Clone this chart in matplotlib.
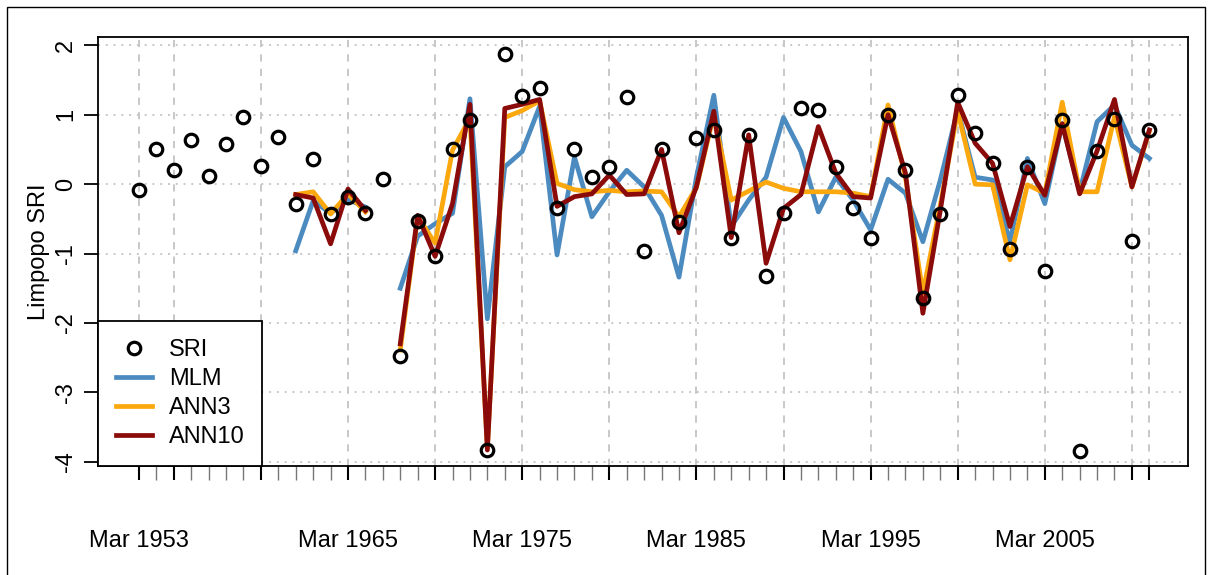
import numpy as np
import matplotlib.pyplot as plt
from matplotlib.patches import Rectangle

# annual SRI observations and model fits for the Limpopo basin
years = np.arange(1953, 2012)
model_years = np.arange(1962, 2012)

sri = [-0.08, 0.50, 0.21, 0.63, 0.12, 0.58, 0.96, 0.26, 0.68, -0.29,
       0.36, -0.43, -0.18, -0.42, 0.07, -2.47, -0.53, -1.04, 0.51, 0.93,
       -3.83, 1.88, 1.27, 1.38, -0.34, 0.50, 0.10, 0.24, 1.25, -0.96,
       0.51, -0.54, 0.66, 0.78, -0.77, 0.71, -1.32, -0.42, 1.10, 1.07,
       0.24, -0.35, -0.77, 0.99, 0.21, -1.64, -0.43, 1.28, 0.74, 0.30,
       -0.93, 0.25, -1.25, 0.92, -3.84, 0.48, 0.94, -0.82, 0.78]

mlm = [-0.96, -0.24, -0.42, -0.22, -0.33, np.nan, -1.50, -0.75, -0.57, -0.42,
       1.23, -1.94, 0.25, 0.47, 1.12, -1.02, 0.39, -0.47, -0.11, 0.20,
       -0.04, -0.45, -1.34, 0.10, 1.28, -0.61, -0.23, 0.10, 0.96, 0.47,
       -0.40, 0.10, -0.23, -0.66, 0.07, -0.13, -0.83, 0.06, 1.07, 0.10,
       0.06, -0.83, 0.37, -0.28, 0.87, -0.11, 0.90, 1.14, 0.56, 0.37]

ann3 = [-0.15, -0.11, -0.43, -0.14, -0.40, np.nan, -2.39, -0.47, -0.85, 0.49,
        0.95, -3.80, 0.96, 1.06, 1.20, 0.01, -0.08, -0.11, -0.09, -0.11,
        -0.10, -0.11, -0.47, -0.05, 1.00, -0.23, -0.10, 0.03, -0.06, -0.11,
        -0.11, -0.11, -0.13, -0.18, 1.14, 0.10, -1.57, -0.30, 1.05, 0.00,
        -0.01, -1.09, -0.01, -0.13, 1.18, -0.11, -0.11, 0.97, -0.04, 0.76]

ann10 = [-0.15, -0.20, -0.86, -0.07, -0.38, np.nan, -2.30, -0.45, -1.04, -0.28,
         1.15, -3.83, 1.09, 1.15, 1.22, -0.32, -0.18, -0.14, 0.13, -0.15,
         -0.14, 0.50, -0.70, -0.04, 1.05, -0.77, 0.71, -1.14, -0.35, -0.15,
         0.83, 0.16, -0.18, -0.20, 1.00, 0.16, -1.86, -0.38, 1.18, 0.59,
         0.30, -0.61, 0.25, -0.16, 0.87, -0.14, 0.48, 1.22, -0.04, 0.78]

label_years = [1953, 1965, 1975, 1985, 1995, 2005]
grid_years = [1953, 1955, 1960, 1965, 1970, 1975, 1980, 1985, 1990,
              1995, 2000, 2005, 2010, 2011]
y_ticks = [-4, -3, -2, -1, 0, 1, 2]

plt.rcParams["font.family"] = ["Liberation Sans", "DejaVu Sans"]

fig = plt.figure(figsize=(12.13, 5.75), dpi=100)
ax = fig.add_axes([0.0808, 0.1896, 0.8986, 0.7461])

l_mlm, = ax.plot(model_years, mlm, color="#4C8BC0", lw=3.4, label="MLM", zorder=3)
l_ann3, = ax.plot(model_years, ann3, color="#FBA80F", lw=3.4, label="ANN3", zorder=4)
l_ann10, = ax.plot(model_years, ann10, color="#8B0A0A", lw=3.4, label="ANN10", zorder=5)
pts, = ax.plot(years, sri, ls="none", marker="o", ms=9, mfc="none",
               mec="black", mew=2.3, label="SRI", zorder=6)

ax.set_xlim(1950.65, 2013.22)
ax.set_ylim(-4.06, 2.12)

# grid: dashed verticals, dotted horizontals
ax.set_axisbelow(True)
ax.set_xticks(grid_years)
ax.set_xticks(years, minor=True)
ax.set_xticklabels([])
ax.xaxis.grid(True, ls=(0, (4, 4)), color="#C4C4C4", lw=1.3)
ax.set_yticks(y_ticks)
ax.set_yticklabels([str(v) for v in y_ticks], rotation=90, va="center", fontsize=17)
ax.yaxis.grid(True, ls=(0, (1, 3)), color="#C8C8C8", lw=1.4)

ax.tick_params(axis="x", which="major", length=10, width=1.5, color="black", direction="out")
ax.tick_params(axis="x", which="minor", length=10, width=1.0, color="#777777", direction="out")
ax.tick_params(axis="y", length=10, width=1.3, pad=5)

for yr in label_years:
    ax.text(yr, -0.175, f"Mar {yr}", transform=ax.get_xaxis_transform(),
            ha="center", va="center", fontsize=17)

ax.set_ylabel("Limpopo SRI", fontsize=17, labelpad=4)

for side in ax.spines.values():
    side.set_linewidth(1.3)
    side.set_color("black")

leg = ax.legend(handles=[pts, l_mlm, l_ann3, l_ann10], loc="lower left",
                bbox_to_anchor=(0, 0), borderaxespad=0, fancybox=False,
                edgecolor="black", framealpha=1, fontsize=17, numpoints=1,
                handlelength=1.55, handletextpad=0.7, labelspacing=0.3,
                borderpad=0.75)
leg.get_frame().set_linewidth(1.3)
leg.set_zorder(10)

fig.patches.append(Rectangle((7 / 1213, -0.05), 1198 / 1213, 1.05 - 7 / 575,
                             transform=fig.transFigure, fill=False,
                             edgecolor="black", lw=1.0))

fig.savefig("out.png", dpi=100)
